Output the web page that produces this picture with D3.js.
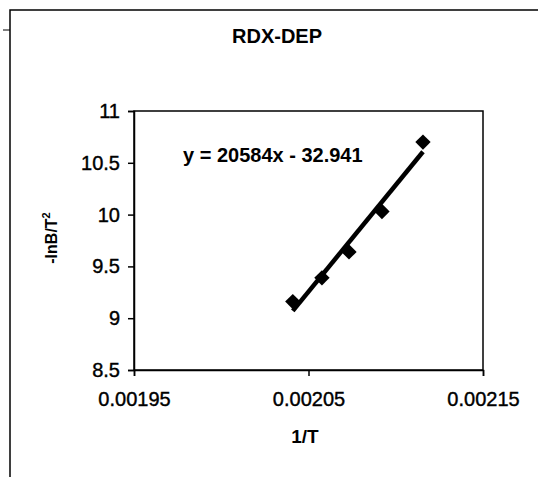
<!DOCTYPE html>
<html>
<head>
<meta charset="utf-8">
<script src="https://cdn.jsdelivr.net/npm/d3@7"></script>
<style>
  body { margin: 0; background: #fff; }
  text { font-family: "Liberation Sans", Arial, sans-serif; fill: #000; }
</style>
</head>
<body>
<svg id="chart" width="538" height="477"></svg>
<script>
// data
const invT = [0.002041, 0.0020577, 0.0020732, 0.0020921, 0.0021156];
const lnBT2 = [9.16, 9.39, 9.64, 10.03, 10.70];
const xTicks = [0.00195, 0.00205, 0.00215];
const yTicks = [8.5, 9, 9.5, 10, 10.5, 11];
const slope = 20584;
const intercept = -32.941;

const svg = d3.select("#chart");

// plot area
const plotL = 134, plotR = 483, plotT = 111, plotB = 370;

const x = d3.scaleLinear().domain([0.00195, 0.00215]).range([plotL, plotR]);
const y = d3.scaleLinear().domain([8.5, 11]).range([plotB, plotT]);

// outer chart frame (runs off the right and bottom of the picture)
svg.append("path")
  .attr("d", "M10,477 L10,10 L538,10")
  .attr("fill", "none").attr("stroke", "#000").attr("stroke-width", 1.5);
svg.append("line").attr("x1", 3).attr("x2", 10).attr("y1", 30).attr("y2", 30)
  .attr("stroke", "#000").attr("stroke-width", 1);

// plot frame
svg.append("rect")
  .attr("x", plotL).attr("y", plotT)
  .attr("width", plotR - plotL).attr("height", plotB - plotT)
  .attr("fill", "none").attr("stroke", "#000").attr("stroke-width", 1.5);

// axes
const xAxis = svg.append("g")
  .attr("transform", `translate(0,${plotB})`)
  .call(d3.axisBottom(x).tickValues(xTicks).tickFormat(d3.format(".5f")).tickSize(6).tickPadding(16));
const yAxis = svg.append("g")
  .attr("transform", `translate(${plotL},0)`)
  .call(d3.axisLeft(y).tickValues(yTicks).tickFormat(d => d).tickSize(6).tickPadding(8));

[xAxis, yAxis].forEach(g => {
  g.select(".domain").attr("stroke-width", 1.5);
  g.selectAll(".tick line").attr("stroke-width", 1.5);
  g.selectAll("text")
    .attr("font-size", 20)
    .attr("font-family", "Liberation Sans, Arial, sans-serif")
    .attr("stroke", "#000").attr("stroke-width", 0.4);
});

// trendline
const xr = d3.extent(invT);
const fit = xr.map(v => [v, slope * v + intercept]);
svg.append("path")
  .datum(fit)
  .attr("d", d3.line().x(d => x(d[0])).y(d => y(d[1])))
  .attr("stroke", "#000").attr("stroke-width", 4.5).attr("fill", "none");

// markers
svg.selectAll(".pt")
  .data(invT.map((v, i) => [v, lnBT2[i]]))
  .join("path")
  .attr("class", "pt")
  .attr("transform", d => `translate(${x(d[0])},${y(d[1])})`)
  .attr("d", d3.symbol(d3.symbolDiamond2, 150))
  .attr("fill", "#000");

// texts
svg.append("text")
  .attr("x", 232).attr("y", 43)
  .attr("font-size", 20).attr("font-weight", "bold")
  .text("RDX-DEP");

svg.append("text")
  .attr("x", 183).attr("y", 162)
  .attr("font-size", 20).attr("font-weight", "bold")
  .text("y = 20584x - 32.941");

svg.append("text")
  .attr("x", 305).attr("y", 443)
  .attr("text-anchor", "middle")
  .attr("font-size", 19).attr("font-weight", "bold")
  .text("1/T");

const yl = svg.append("text")
  .attr("transform", "translate(57,238) rotate(-90)")
  .attr("text-anchor", "middle")
  .attr("font-size", 16).attr("font-weight", "bold");
yl.append("tspan").text("-lnB/T");
yl.append("tspan").attr("font-size", 11).attr("dy", -7).text("2");
</script>
</body>
</html>
